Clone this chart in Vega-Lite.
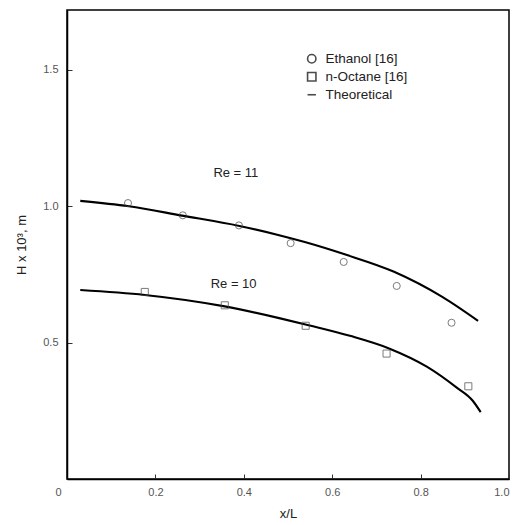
{
  "$schema": "https://vega.github.io/schema/vega-lite/v6.json",
  "width": 442,
  "height": 469,
  "autosize": "none",
  "padding": {"left": 67, "top": 10, "right": 8, "bottom": 46},
  "background": "white",
  "config": {
    "view": {"stroke": "black", "strokeWidth": 1.5},
    "font": "Liberation Sans",
    "axis": {"domainColor": "black", "domainWidth": 1.5, "tickColor": "#333", "labelColor": "#555", "labelFontSize": 11, "titleFontSize": 13, "titleFontWeight": "normal", "titleColor": "#222", "grid": false}
  },
  "datasets": {
    "theory": [
      {"Re": "11", "x": 0.03, "H": 1.02},
      {"Re": "11", "x": 0.14, "H": 1.0},
      {"Re": "11", "x": 0.26, "H": 0.966},
      {"Re": "11", "x": 0.39, "H": 0.928},
      {"Re": "11", "x": 0.48, "H": 0.894},
      {"Re": "11", "x": 0.54, "H": 0.868},
      {"Re": "11", "x": 0.63, "H": 0.823},
      {"Re": "11", "x": 0.74, "H": 0.76},
      {"Re": "11", "x": 0.85, "H": 0.667},
      {"Re": "11", "x": 0.93, "H": 0.58},
      {"Re": "10", "x": 0.03, "H": 0.693},
      {"Re": "10", "x": 0.176, "H": 0.675},
      {"Re": "10", "x": 0.357, "H": 0.633},
      {"Re": "10", "x": 0.48, "H": 0.59},
      {"Re": "10", "x": 0.549, "H": 0.563},
      {"Re": "10", "x": 0.64, "H": 0.525},
      {"Re": "10", "x": 0.73, "H": 0.478},
      {"Re": "10", "x": 0.814, "H": 0.412},
      {"Re": "10", "x": 0.881, "H": 0.336},
      {"Re": "10", "x": 0.918, "H": 0.287},
      {"Re": "10", "x": 0.936, "H": 0.245}
    ],
    "exp": [
      {"series": "Ethanol [16]", "x": 0.138, "H": 1.012},
      {"series": "Ethanol [16]", "x": 0.262, "H": 0.967},
      {"series": "Ethanol [16]", "x": 0.389, "H": 0.93},
      {"series": "Ethanol [16]", "x": 0.506, "H": 0.865},
      {"series": "Ethanol [16]", "x": 0.626, "H": 0.796},
      {"series": "Ethanol [16]", "x": 0.746, "H": 0.708},
      {"series": "Ethanol [16]", "x": 0.87, "H": 0.573},
      {"series": "n-Octane [16]", "x": 0.176, "H": 0.686},
      {"series": "n-Octane [16]", "x": 0.357, "H": 0.637},
      {"series": "n-Octane [16]", "x": 0.54, "H": 0.562},
      {"series": "n-Octane [16]", "x": 0.723, "H": 0.46},
      {"series": "n-Octane [16]", "x": 0.908, "H": 0.34}
    ],
    "labels": [
      {"x": 0.382, "H": 1.122, "text": "Re = 11"},
      {"x": 0.377, "H": 0.715, "text": "Re = 10"}
    ]
  },
  "layer": [
    {
      "data": {"name": "theory"},
      "mark": {"type": "line", "color": "black", "strokeWidth": 2.1, "interpolate": "monotone"},
      "encoding": {
        "x": {"field": "x", "type": "quantitative", "scale": {"domain": [0, 1], "nice": false},
          "axis": {"title": "x/L", "values": [0, 0.2, 0.4, 0.6, 0.8, 1.0], "labelExpr": "datum.value == 0 ? '0' : format(datum.value, '.1f')", "tickSize": -5, "labelPadding": 12, "titlePadding": 10,
            "labelOffset": {"condition": {"test": "datum.value == 0", "value": -12}, "value": 0}}},
        "y": {"field": "H", "type": "quantitative", "scale": {"domain": [0, 1.72], "nice": false},
          "axis": {"title": "H x 10³, m", "values": [0.5, 1.0, 1.5], "format": ".1f", "tickSize": -5, "labelPadding": 14, "titlePadding": 14}},
        "detail": {"field": "Re", "type": "nominal"}
      }
    },
    {
      "data": {"name": "exp"},
      "mark": {"type": "point", "filled": false, "color": "#444", "size": 50, "strokeWidth": 1},
      "encoding": {
        "x": {"field": "x", "type": "quantitative"},
        "y": {"field": "H", "type": "quantitative"},
        "shape": {"field": "series", "type": "nominal",
          "scale": {"domain": ["Ethanol [16]", "n-Octane [16]", "Theoretical"], "range": ["circle", "square", "stroke"]},
          "legend": {"title": null, "orient": "none", "legendX": 238, "legendY": 42, "labelFontSize": 13.5, "labelColor": "#222", "symbolStrokeColor": "black", "symbolStrokeWidth": 1.6, "symbolSize": 70, "rowPadding": 2, "labelOffset": 7}}
      }
    },
    {
      "data": {"name": "labels"},
      "mark": {"type": "text", "fontSize": 13, "color": "#222"},
      "encoding": {
        "x": {"field": "x", "type": "quantitative"},
        "y": {"field": "H", "type": "quantitative"},
        "text": {"field": "text"}
      }
    }
  ]
}
